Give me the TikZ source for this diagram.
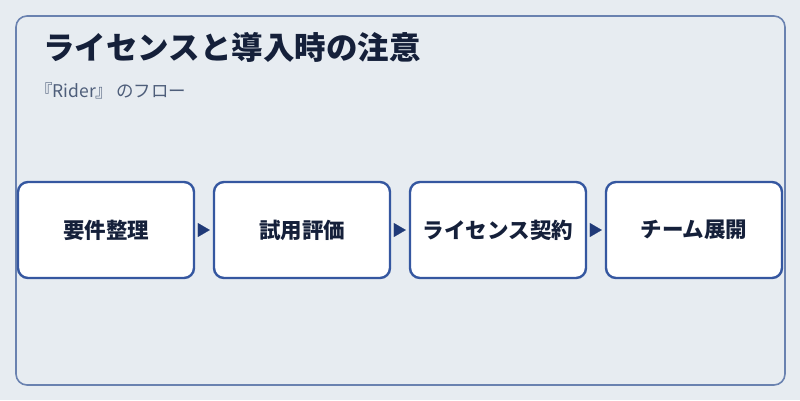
\documentclass[tikz,border=0pt]{standalone}
\usepackage{fontspec}
\setmainfont{Noto Sans CJK JP}
\usetikzlibrary{arrows.meta}
\definecolor{bgc}{HTML}{E7ECF1}
\definecolor{framec}{HTML}{6A82B0}
\definecolor{boxc}{HTML}{3557A0}
\definecolor{arrc}{HTML}{203A78}
\definecolor{titlec}{HTML}{15203A}
\definecolor{subc}{HTML}{4E5E7A}
\tikzset{
  stepbox/.style={draw=boxc, line width=2.4pt, fill=white, rounded corners=10pt,
    minimum width=176pt, minimum height=96pt, inner sep=0pt,
    font=\fontsize{21.5}{26}\selectfont\bfseries, text=titlec},
  flowarrow/.style={-{Triangle[length=12pt,width=14pt]}, draw=arrc, fill=arrc,
    line width=0.1pt, shorten <=4pt, shorten >=3pt}
}
\begin{document}
\begin{tikzpicture}[x=1pt,y=-1pt]
\fill[bgc] (0,0) rectangle (800,400);
\useasboundingbox (0,0) rectangle (800,400);
\node[draw=framec, line width=1.6pt, rounded corners=11pt, minimum width=769pt, minimum height=369pt, inner sep=0pt] (frame) at (400.5,200.5) {};
\node[anchor=base west, inner sep=0pt, font=\fontsize{31.5}{36}\selectfont\bfseries, text=titlec] (title) at (43,59.5) {ライセンスと導入時の注意};
\node[anchor=base west, inner sep=0pt, font=\fontsize{17.5}{21}\selectfont, text=subc] (sub) at (35,97) {『Rider』\,のフロー};
\node[stepbox] (b1) at (106,230) {要件整理};
\node[stepbox] (b2) at (302,230) {試用評価};
\node[stepbox] (b3) at (498,230) {ライセンス契約};
\node[stepbox] (b4) at (694,230) {チーム展開};
\draw[flowarrow] (b1.east) -- (b2.west);
\draw[flowarrow] (b2.east) -- (b3.west);
\draw[flowarrow] (b3.east) -- (b4.west);
\end{tikzpicture}
\end{document}
